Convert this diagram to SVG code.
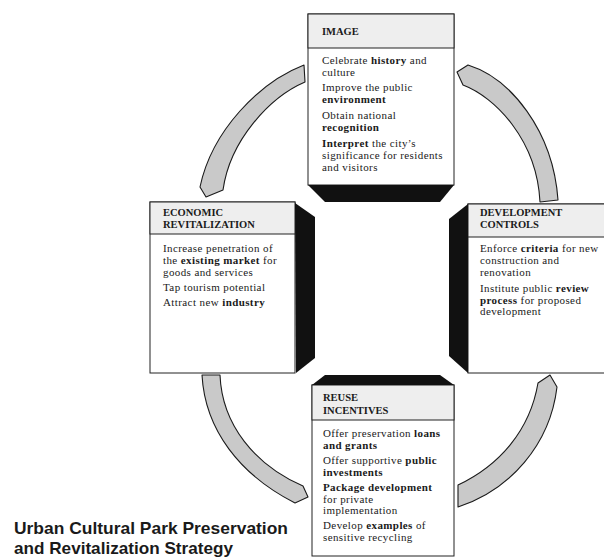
<svg xmlns="http://www.w3.org/2000/svg" width="604" height="559" viewBox="0 0 604 559">
<style>
.box{fill:#fff;stroke:#222;stroke-width:1}
.hdr{fill:#eeeeee;stroke:#222;stroke-width:1}
.sh{fill:#111}
.arr{fill:#c9c9c9;stroke:#1a1a1a;stroke-width:1.1;stroke-linejoin:round}
.h{font-family:"Liberation Serif",serif;font-size:10.5px;font-weight:bold;fill:#1a1a1a}
.t{font-family:"Liberation Serif",serif;font-size:11px;letter-spacing:0.4px;fill:#1a1a1a}
.b{font-weight:bold}
.title{font-family:"Liberation Sans",sans-serif;font-size:17px;font-weight:bold;fill:#1a1a1a}
</style>
<rect width="604" height="559" fill="#fff"/>
<g id="connectors">
<path class="arr" d="M304,65 C260,82 212,130 200,187 L206,197 L223,190 C230,140 270,97 305,82 Z"/>
<path class="arr" d="M468,65 C510,78 553,130 558,200 L540,202 C537,140 495,97 463,85 L457,72 Z"/>
<path class="arr" d="M202,375 C205,430 240,475 295,503 L308,497 L303,486 C255,465 222,425 220,375 Z"/>
<path class="arr" d="M458,485 C500,465 530,430 538,383 L550,375 L557,387 C550,445 510,490 458,507 Z"/>
</g>
<g id="image">
<rect class="box" x="308" y="14" width="146" height="171"/>
<rect class="hdr" x="308" y="14" width="146" height="34"/>
<path class="sh" d="M308,185 L454,185 L440,202 L325,202 Z"/>
<text class="h" x="322" y="35">IMAGE</text>
<text class="t" x="322" y="64">Celebrate <tspan class="b">history</tspan> and</text>
<text class="t" x="322" y="76">culture</text>
<text class="t" x="322" y="91">Improve the public</text>
<text class="t b" x="322" y="103">environment</text>
<text class="t" x="322" y="119">Obtain national</text>
<text class="t b" x="322" y="131">recognition</text>
<text class="t" x="322" y="147"><tspan class="b">Interpret</tspan> the city’s</text>
<text class="t" x="322" y="159">significance for residents</text>
<text class="t" x="322" y="171">and visitors</text>
</g>
<g id="economic">
<rect class="box" x="150" y="202" width="145" height="171"/>
<rect class="hdr" x="150" y="202" width="145" height="32"/>
<path class="sh" d="M295,203 L315,217 L315,358 L296,373 Z"/>
<text class="h" x="163" y="216">ECONOMIC</text>
<text class="h" x="163" y="228">REVITALIZATION</text>
<text class="t" x="163" y="252">Increase penetration of</text>
<text class="t" x="163" y="264">the <tspan class="b">existing market</tspan> for</text>
<text class="t" x="163" y="276">goods and services</text>
<text class="t" x="163" y="291">Tap tourism potential</text>
<text class="t" x="163" y="306">Attract new <tspan class="b">industry</tspan></text>
</g>
<g id="development">
<rect class="box" x="468" y="204" width="150" height="169"/>
<rect class="hdr" x="468" y="204" width="150" height="33"/>
<path class="sh" d="M468,204 L449,219 L449,356 L468,373 Z"/>
<text class="h" x="480" y="216">DEVELOPMENT</text>
<text class="h" x="480" y="228">CONTROLS</text>
<text class="t" x="480" y="252">Enforce <tspan class="b">criteria</tspan> for new</text>
<text class="t" x="480" y="264">construction and</text>
<text class="t" x="480" y="276">renovation</text>
<text class="t" x="480" y="292">Institute public <tspan class="b">review</tspan></text>
<text class="t" x="480" y="303.5"><tspan class="b">process</tspan> for proposed</text>
<text class="t" x="480" y="315">development</text>
</g>
<g id="reuse">
<rect class="box" x="312" y="385" width="142" height="171"/>
<rect class="hdr" x="312" y="385" width="142" height="35"/>
<path class="sh" d="M325,375 L440,375 L454,385 L312,385 Z"/>
<text class="h" x="323" y="401">REUSE</text>
<text class="h" x="323" y="414">INCENTIVES</text>
<text class="t" x="323" y="437">Offer preservation <tspan class="b">loans</tspan></text>
<text class="t b" x="323" y="448.5">and grants</text>
<text class="t" x="323" y="464">Offer supportive <tspan class="b">public</tspan></text>
<text class="t b" x="323" y="475.5">investments</text>
<text class="t b" x="323" y="491">Package development</text>
<text class="t" x="323" y="502.5">for private</text>
<text class="t" x="323" y="514">implementation</text>
<text class="t" x="323" y="529">Develop <tspan class="b">examples</tspan> of</text>
<text class="t" x="323" y="541">sensitive recycling</text>
</g>
<g id="title">
<text class="title" x="14" y="534" textLength="274" lengthAdjust="spacingAndGlyphs">Urban Cultural Park Preservation</text>
<text class="title" x="14" y="554" textLength="219" lengthAdjust="spacingAndGlyphs">and Revitalization Strategy</text>
</g>
</svg>
